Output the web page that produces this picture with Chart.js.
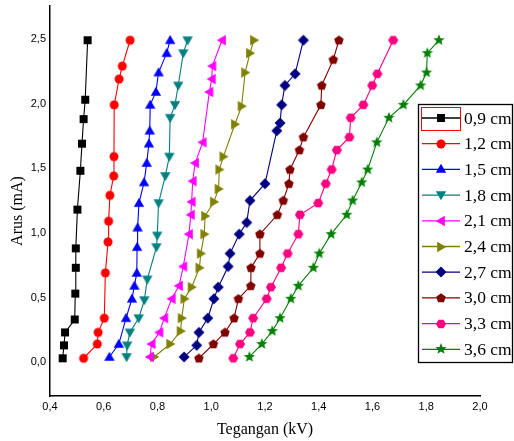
<!DOCTYPE html>
<html>
<head>
<meta charset="utf-8">
<script src="https://cdn.jsdelivr.net/npm/chart.js@4"></script>
<style>
html,body{margin:0;padding:0;background:#fff;}
#c{display:block;}
</style>
</head>
<body>
<canvas id="c" width="514" height="441" style="width:514px;height:441px"></canvas>
<script>
// ---- data (voltage kV, current mA) ----
const seriesLabels = ["0,9 cm","1,2 cm","1,5 cm","1,8 cm","2,1 cm","2,4 cm","2,7 cm","3,0 cm","3,3 cm","3,6 cm"];

const v09 = [0.447,0.452,0.456,0.492,0.494,0.496,0.496,0.502,0.513,0.519,0.525,0.531,0.540];
const i09 = [0.03,0.13,0.23,0.33,0.53,0.73,0.88,1.18,1.48,1.69,1.88,2.03,2.49];

const v12 = [0.525,0.576,0.579,0.602,0.606,0.616,0.618,0.623,0.637,0.638,0.639,0.657,0.669,0.698];
const i12 = [0.03,0.14,0.23,0.34,0.69,0.93,1.09,1.29,1.44,1.59,1.99,2.19,2.29,2.49];

const v15 = [0.621,0.656,0.683,0.705,0.714,0.723,0.724,0.726,0.731,0.750,0.760,0.768,0.771,0.773,0.794,0.804,0.834,0.847];
const i15 = [0.04,0.14,0.34,0.49,0.59,0.69,0.89,1.04,1.23,1.39,1.54,1.69,1.79,1.99,2.09,2.24,2.39,2.49];

const v18 = [0.685,0.687,0.697,0.730,0.751,0.762,0.796,0.799,0.804,0.829,0.844,0.847,0.865,0.877,0.896,0.912];
const i18 = [0.04,0.13,0.23,0.34,0.48,0.64,0.89,0.98,1.23,1.44,1.59,1.89,1.99,2.14,2.39,2.49];

const v21 = [0.772,0.778,0.807,0.825,0.853,0.880,0.896,0.917,0.924,0.927,0.931,0.940,0.968,0.993,1.002,1.004,1.040];
const i21 = [0.04,0.14,0.23,0.34,0.49,0.59,0.74,0.99,1.14,1.24,1.40,1.54,1.70,2.09,2.19,2.29,2.49];

const v24 = [0.787,0.847,0.886,0.890,0.900,0.927,0.956,0.961,0.974,0.977,1.010,1.027,1.030,1.045,1.088,1.113,1.126,1.144,1.159];
const i24 = [0.04,0.14,0.24,0.34,0.49,0.58,0.73,0.84,0.99,1.13,1.24,1.34,1.49,1.59,1.84,1.98,2.24,2.39,2.49];

const v27 = [0.899,0.946,0.954,0.987,1.010,1.026,1.063,1.070,1.104,1.132,1.144,1.200,1.244,1.256,1.262,1.274,1.312,1.343];
const i27 = [0.04,0.13,0.23,0.34,0.49,0.58,0.74,0.84,0.99,1.08,1.25,1.38,1.79,1.85,1.99,2.14,2.23,2.49];

const v30 = [0.954,1.008,1.051,1.085,1.101,1.147,1.148,1.181,1.181,1.246,1.268,1.289,1.293,1.328,1.343,1.408,1.411,1.454,1.475];
const i30 = [0.03,0.14,0.23,0.34,0.49,0.59,0.73,0.84,0.99,1.14,1.25,1.38,1.49,1.64,1.74,1.99,2.14,2.34,2.49];

const v33 = [1.082,1.107,1.144,1.156,1.206,1.222,1.260,1.284,1.324,1.330,1.398,1.426,1.448,1.467,1.514,1.519,1.566,1.599,1.618,1.677];
const i33 = [0.03,0.14,0.23,0.34,0.49,0.58,0.73,0.84,0.99,1.14,1.23,1.38,1.49,1.64,1.74,1.89,1.99,2.14,2.23,2.49];

const v36 = [1.142,1.188,1.227,1.256,1.296,1.324,1.380,1.402,1.446,1.504,1.526,1.560,1.582,1.616,1.661,1.715,1.779,1.801,1.804,1.847];
const i36 = [0.04,0.14,0.24,0.34,0.49,0.59,0.73,0.84,0.99,1.14,1.25,1.39,1.49,1.70,1.89,1.99,2.14,2.24,2.39,2.49];

const xTicks = [0.4,0.6,0.8,1.0,1.2,1.4,1.6,1.8,2.0];
const yTicks = [0.0,0.5,1.0,1.5,2.0,2.5];

const voltages = [v09,v12,v15,v18,v21,v24,v27,v30,v33,v36];
const currents = [i09,i12,i15,i18,i21,i24,i27,i30,i33,i36];

// ---- styles ----
const colors = ["#000000","#ff0000","#0000ff","#008080","#ff00ff","#808000","#000080","#800000","#ff0080","#008000"];
const shapes = ["square","circle","triUp","triDown","triLeft","triRight","diamond","pentagon","hexagon","star"];

function polygon(ctx, cx, cy, r, n, startDeg){
  ctx.beginPath();
  for(let k=0;k<n;k++){
    const a = (startDeg + k*360/n)*Math.PI/180;
    const x = cx + r*Math.cos(a), y = cy + r*Math.sin(a);
    if(k===0) ctx.moveTo(x,y); else ctx.lineTo(x,y);
  }
  ctx.closePath();
}
function drawShape(ctx, shape, cx, cy, color){
  ctx.fillStyle = color;
  switch(shape){
    case "square": ctx.beginPath(); ctx.rect(cx-4,cy-4,8,8); break;
    case "circle": ctx.beginPath(); ctx.arc(cx,cy,4.5,0,Math.PI*2); break;
    case "triUp": polygon(ctx,cx,cy+0.8,6,3,-90); break;
    case "triDown": polygon(ctx,cx,cy-0.8,6,3,90); break;
    case "triLeft": polygon(ctx,cx+0.8,cy,6,3,180); break;
    case "triRight": polygon(ctx,cx-0.8,cy,6,3,0); break;
    case "diamond": polygon(ctx,cx,cy,5.5,4,-90); break;
    case "pentagon": polygon(ctx,cx,cy+0.3,5,5,-90); break;
    case "hexagon": polygon(ctx,cx,cy,5,6,0); break;
    case "star": {
      ctx.beginPath();
      for(let k=0;k<10;k++){
        const r = (k%2===0)?6:2.6;
        const a = (-90 + k*36)*Math.PI/180;
        const x = cx + r*Math.cos(a), y = cy + r*Math.sin(a);
        if(k===0) ctx.moveTo(x,y); else ctx.lineTo(x,y);
      }
      ctx.closePath();
      break;
    }
  }
  ctx.fill();
}
function makeMarker(shape, color){
  const c = document.createElement("canvas");
  c.width = 14; c.height = 14;
  const g = c.getContext("2d");
  drawShape(g, shape, 7, 7, color);
  return c;
}
const markers = shapes.map((s,k)=>makeMarker(s, colors[k]));

const datasets = seriesLabels.map((lab,k)=>({
  label: lab,
  data: voltages[k].map((v,j)=>({x:v, y:currents[k][j]})),
  showLine: true,
  borderColor: colors[k],
  backgroundColor: colors[k],
  borderWidth: 1.1,
  tension: 0,
  pointStyle: markers[k],
  pointRadius: 5,
  pointHoverRadius: 5
}));

const fmt = v => Number(v).toFixed(1).replace(".", ",");
const serif = "'Liberation Serif', 'Times New Roman', serif";

const legendPlugin = {
  id: "boxLegend",
  afterDatasetsDraw(chart){
    const ctx = chart.ctx;
    ctx.save();
    // y-axis title
    ctx.save();
    ctx.translate(18, 211);
    ctx.rotate(-Math.PI/2);
    ctx.font = "16px " + serif;
    ctx.fillStyle = "#000";
    ctx.textAlign = "center";
    ctx.textBaseline = "middle";
    ctx.fillText("Arus (mA)", 0, 0);
    ctx.restore();

    const bx = 418.5, by = 104.5, bw = 94, bh = 258;
    ctx.fillStyle = "#fff";
    ctx.fillRect(bx,by,bw,bh);
    ctx.strokeStyle = "#000";
    ctx.lineWidth = 1.3;
    ctx.strokeRect(bx,by,bw,bh);
    ctx.font = "17.5px " + serif;
    ctx.textBaseline = "middle";
    ctx.textAlign = "left";
    for(let k=0;k<seriesLabels.length;k++){
      const y = 118 + k*25.7;
      ctx.strokeStyle = colors[k];
      ctx.lineWidth = 1.3;
      ctx.beginPath(); ctx.moveTo(422,y); ctx.lineTo(460,y); ctx.stroke();
      ctx.drawImage(markers[k], 441-7, Math.round(y)-7);
      ctx.fillStyle = "#000";
      ctx.fillText(seriesLabels[k], 464, y+1);
    }
    ctx.strokeStyle = "#ff0000";
    ctx.lineWidth = 1;
    ctx.strokeRect(421.5,107.5,39,23);
    ctx.restore();
  }
};

new Chart(document.getElementById("c"), {
  type: "scatter",
  data: { datasets },
  options: {
    responsive: false,
    animation: false,
    devicePixelRatio: 1,
    layout: { padding: { left: 0, right: 34, top: 4, bottom: 0 } },
    plugins: { legend: { display: false }, tooltip: { enabled: false } },
    scales: {
      x: {
        type: "linear",
        min: 0.4, max: 2.0,
        afterFit(s){ s.height = 45; s.paddingLeft = 0; s.paddingRight = 0; },
        afterBuildTicks(s){ s.ticks = xTicks.map(v=>({value:v})); },
        grid: { display: false, drawTicks: false },
        border: { display: true, color: "#000", width: 1.5 },
        ticks: { padding: 4, color: "#000", font: { family: "'Liberation Sans', Arial, sans-serif", size: 11 }, callback: v => fmt(v), maxRotation: 0 },
        title: { display: true, text: "Tegangan (kV)", color: "#000", font: { family: serif, size: 16 }, padding: { top: 0, bottom: 2 } }
      },
      y: {
        type: "linear",
        min: -0.262, max: 2.754,
        afterFit(s){ s.width = 50; s.paddingTop = 0; s.paddingBottom = 0; },
        afterBuildTicks(s){ s.ticks = yTicks.map(v=>({value:v})); },
        grid: { display: false, drawTicks: false },
        border: { display: true, color: "#000", width: 1.5 },
        ticks: { padding: 4, color: "#000", font: { family: "'Liberation Sans', Arial, sans-serif", size: 11 }, callback: v => fmt(v) },
        title: { display: false }
      }
    }
  },
  plugins: [legendPlugin]
});
</script>
</body>
</html>
